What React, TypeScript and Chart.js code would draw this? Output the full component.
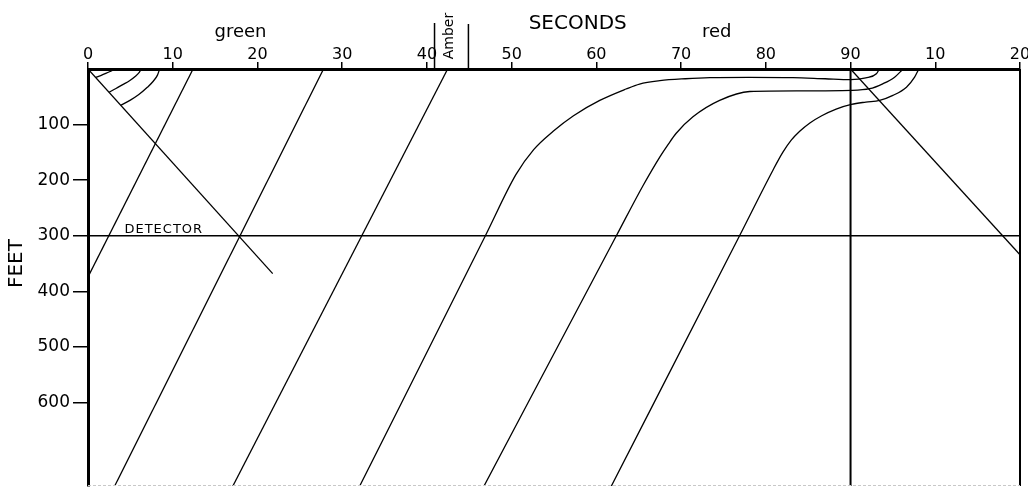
import React, { useEffect, useRef } from "react";
import { Chart, registerables } from "chart.js";

Chart.register(...registerables);

// ---- axes ----
const timeTicks = [0, 10, 20, 30, 40, 50, 60, 70, 80, 90, 100, 110];
const timeTickLabels = ["0", "10", "20", "30", "40", "50", "60", "70", "80", "90", "10", "20"];
const feetTicks = [100, 200, 300, 400, 500, 600];
const timeMin = 0;
const timeMax = 110;
const feetMax = 750;

// ---- signal / detector ----
const amberStart = 40.9;
const amberEnd = 44.9;
const redStart = 90;
const detectorFeet = 300;
const greenLabelAt = 18;
const secondsLabelAt = 57.8;
const redLabelAt = 74.2;
const detectorLabelAt = 4.3;
const feetLabelAt = 350;

// ---- vehicle trajectories (time s, distance ft) ----
const vehA_t = [0, 12.4];
const vehA_f = [374, 0];
const vehB_t = [3.15, 27.8];
const vehB_f = [750, 0];
const vehC_t = [17.1, 42.45];
const vehC_f = [750, 0];
const vehD_t = [32.07, 46.9, 50.5, 52.6, 54.9, 57.3, 60.4, 63.5, 65.1, 67.5, 70.5, 73.4, 78, 83.2, 87, 90, 91.8, 93.05, 93.4];
const vehD_f = [750, 300, 190, 145, 112, 84, 56.5, 36, 27, 21, 17.5, 15.5, 15, 15.5, 17.5, 19, 16, 8.6, 0];
const vehE_t = [46.74, 62.36, 65.5, 67.5, 68.5, 69.4, 71.4, 74.55, 78.1, 84, 90.1, 92.25, 93.8, 95.2, 96.2];
const vehE_f = [750, 300, 210, 158, 135, 116, 86, 56.5, 40.5, 39.5, 38.6, 35.5, 26.6, 14.7, 0];
const vehF_t = [61.77, 76.9, 80.84, 82.0, 83.0, 84.0, 85.2, 86.6, 88.3, 90.1, 91.8, 93.43, 95.0, 96.6, 97.56, 98.06];
const vehF_f = [750, 300, 182, 150, 128, 112, 97, 84, 72, 63.6, 59.5, 56.5, 47.5, 32.7, 14.7, 0];
// previous-cycle arcs near time 0
const arc1_t = [0.9, 1.5, 2.1, 2.6, 3.0, 3.16];
const arc1_f = [15.2, 11.8, 8, 4.5, 1.5, 0];
const arc2_t = [2.48, 3.3, 4.1, 4.9, 5.6, 6.05, 6.3];
const arc2_f = [41.9, 35, 28, 21, 13, 6, 0];
const arc3_t = [3.86, 5.0, 6.0, 7.0, 7.7, 8.2, 8.46];
const arc3_f = [65.2, 56, 46, 33, 22, 11, 0];
// start-up waves
const waveA_t = [0, 21.8];
const waveA_f = [0, 368];
const waveB_t = [90, 110];
const waveB_f = [0, 334];
// reference lines
const redLine_t = [redStart, redStart];
const redLine_f = [0, feetMax];
const detLine_t = [timeMin, timeMax];
const detLine_f = [detectorFeet, detectorFeet];

const FONT = '"DejaVu Sans", "Liberation Sans", sans-serif';

const pts = (t: number[], f: number[]) => t.map((x, i) => ({ x, y: f[i] }));

const straight = (t: number[], f: number[], w = 1.3) => ({
  data: pts(t, f),
  borderColor: "#000",
  borderWidth: w,
  pointRadius: 0,
  tension: 0,
  fill: false,
});
const curve = (t: number[], f: number[]) => ({
  data: pts(t, f),
  borderColor: "#000",
  borderWidth: 1.3,
  pointRadius: 0,
  cubicInterpolationMode: "monotone",
  fill: false,
});

const annotate = {
  id: "annotate",
  afterDraw(chart: any) {
    const { ctx, chartArea } = chart;
    const xs = chart.scales.x;
    const ys = chart.scales.y;
    ctx.save();
    ctx.fillStyle = "#000";
    ctx.strokeStyle = "#000";

    // right frame
    ctx.lineWidth = 2;
    ctx.beginPath();
    ctx.moveTo(chartArea.right, chartArea.top);
    ctx.lineTo(chartArea.right, chartArea.bottom);
    ctx.stroke();

    // faint bottom edge
    ctx.strokeStyle = "#c8c8c8";
    ctx.lineWidth = 1;
    ctx.setLineDash([3, 2]);
    ctx.beginPath();
    ctx.moveTo(chartArea.left, chartArea.bottom - 0.5);
    ctx.lineTo(chartArea.right, chartArea.bottom - 0.5);
    ctx.stroke();
    ctx.setLineDash([]);
    ctx.strokeStyle = "#000";

    // headings
    ctx.textAlign = "center";
    ctx.textBaseline = "alphabetic";
    ctx.font = `18px ${FONT}`;
    ctx.fillText("green", xs.getPixelForValue(greenLabelAt), 37);
    ctx.fillText("red", xs.getPixelForValue(redLabelAt), 37);
    ctx.font = `20px ${FONT}`;
    ctx.fillText("SECONDS", xs.getPixelForValue(secondsLabelAt), 29);

    // amber interval
    const a0 = xs.getPixelForValue(amberStart);
    const a1 = xs.getPixelForValue(amberEnd);
    ctx.lineWidth = 1.5;
    ctx.beginPath();
    ctx.moveTo(a0, 23);
    ctx.lineTo(a0, chartArea.top);
    ctx.moveTo(a1, 24);
    ctx.lineTo(a1, chartArea.top);
    ctx.stroke();
    ctx.save();
    ctx.translate((a0 + a1) / 2 - 2, 36);
    ctx.rotate(-Math.PI / 2);
    ctx.font = `14px ${FONT}`;
    ctx.textAlign = "center";
    ctx.textBaseline = "middle";
    ctx.fillText("Amber", 0, 0);
    ctx.restore();

    // FEET
    ctx.save();
    ctx.translate(17, ys.getPixelForValue(feetLabelAt));
    ctx.rotate(-Math.PI / 2);
    ctx.font = `20px ${FONT}`;
    ctx.textAlign = "center";
    ctx.textBaseline = "middle";
    ctx.fillText("FEET", 0, 0);
    ctx.restore();

    // DETECTOR
    ctx.font = `13px ${FONT}`;
    (ctx as any).letterSpacing = "1px";
    ctx.textAlign = "left";
    ctx.textBaseline = "alphabetic";
    ctx.fillText("DETECTOR", xs.getPixelForValue(detectorLabelAt), ys.getPixelForValue(detectorFeet) - 3);
    (ctx as any).letterSpacing = "0px";
    ctx.restore();
  },
};

export default function App() {
  const canvasRef = useRef<HTMLCanvasElement | null>(null);

  useEffect(() => {
    document.body.style.margin = "0";
    const canvas = canvasRef.current;
    if (!canvas) return;
    const chart = new Chart(canvas, {
      type: "line",
      data: {
        datasets: [
          straight(detLine_t, detLine_f, 1.5),
          straight(redLine_t, redLine_f, 2),
          straight(waveA_t, waveA_f),
          straight(waveB_t, waveB_f),
          straight(vehA_t, vehA_f),
          straight(vehB_t, vehB_f),
          straight(vehC_t, vehC_f),
          curve(vehD_t, vehD_f),
          curve(vehE_t, vehE_f),
          curve(vehF_t, vehF_f),
          curve(arc1_t, arc1_f),
          curve(arc2_t, arc2_f),
          curve(arc3_t, arc3_f),
        ] as any,
      },
      options: {
        responsive: false,
        animation: false,
        devicePixelRatio: 1,
        layout: { padding: { left: 0, right: 8, top: 0, bottom: 1 } },
        plugins: { legend: { display: false }, tooltip: { enabled: false } },
        scales: {
          x: {
            type: "linear",
            position: "top",
            min: timeMin,
            max: timeMax,
            afterBuildTicks: (s: any) => {
              s.ticks = timeTicks.map((v) => ({ value: v }));
            },
            afterFit: (s: any) => {
              s.height = 69;
              s.paddingLeft = 0;
              s.paddingRight = 0;
            },
            ticks: {
              autoSkip: false,
              maxRotation: 0,
              padding: -2,
              color: "#000",
              font: { family: FONT, size: 16 },
              callback: (v: any) => {
                const i = timeTicks.indexOf(Number(v));
                return i >= 0 ? timeTickLabels[i] : "";
              },
            },
            grid: {
              display: true,
              drawOnChartArea: false,
              drawTicks: true,
              tickLength: 7,
              color: "#000",
              lineWidth: 1.5,
            },
            border: { display: true, color: "#000", width: 3 },
          },
          y: {
            type: "linear",
            reverse: true,
            min: 0,
            max: feetMax,
            afterBuildTicks: (s: any) => {
              s.ticks = feetTicks.map((v) => ({ value: v }));
            },
            afterFit: (s: any) => {
              s.width = 88;
              s.paddingTop = 0;
              s.paddingBottom = 0;
            },
            ticks: {
              padding: 3,
              color: "#000",
              font: { family: FONT, size: 17 },
            },
            grid: {
              display: true,
              drawOnChartArea: false,
              drawTicks: true,
              tickLength: 15,
              color: "#000",
              lineWidth: 1.5,
            },
            border: { display: true, color: "#000", width: 3 },
          },
        },
      } as any,
      plugins: [annotate],
    });
    return () => chart.destroy();
  }, []);

  return (
    <div style={{ position: "absolute", left: 0, top: 0, width: 1028, height: 487, background: "#fff" }}>
      <canvas ref={canvasRef} width={1028} height={487} style={{ display: "block" }} />
    </div>
  );
}
